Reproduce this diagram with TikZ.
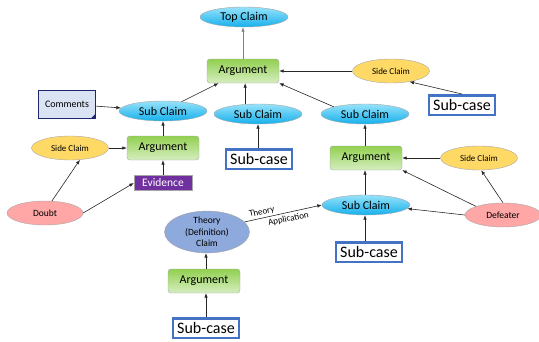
\documentclass[tikz,border=0pt]{standalone}
\usepackage{fontspec}
\setmainfont{Carlito}
\usepackage{tikz}
\usetikzlibrary{arrows.meta,shapes.geometric}

\definecolor{claimtop}{RGB}{150,226,250}
\definecolor{claimbot}{RGB}{22,176,236}
\definecolor{argtop}{RGB}{146,208,80}
\definecolor{argbot}{RGB}{214,238,192}
\definecolor{sidefill}{RGB}{255,217,102}
\definecolor{doubtfill}{RGB}{255,166,166}
\definecolor{theoryfill}{RGB}{142,169,219}
\definecolor{evfill}{RGB}{112,48,160}
\definecolor{notefill}{RGB}{218,227,243}
\definecolor{notedraw}{RGB}{31,40,110}
\definecolor{casedraw}{RGB}{68,114,196}

\begin{document}
\begin{tikzpicture}[x=1pt,y=-1pt,
  >={Latex[length=4.5pt,width=3.5pt]},
  claim/.style={ellipse, draw=gray!70, top color=claimtop, bottom color=claimbot,
    inner sep=0pt, minimum width=88pt, minimum height=20pt, font=\fontsize{12}{13}\selectfont},
  argbox/.style={rectangle, rounded corners=3pt, draw=gray!70, top color=argtop, bottom color=argbot,
    minimum width=72pt, minimum height=24pt, inner sep=0pt, font=\fontsize{12}{13}\selectfont},
  sideclaim/.style={ellipse, draw=gray!70, fill=sidefill, inner sep=0pt,
    minimum width=77pt, minimum height=24pt, font=\fontsize{9}{11}\selectfont},
  objection/.style={ellipse, draw=gray!70, fill=doubtfill, inner sep=0pt,
    minimum width=76pt, minimum height=24pt, font=\fontsize{9.5}{11}\selectfont},
  subcase/.style={rectangle, draw=casedraw, line width=2.5pt, fill=white, inner sep=0pt,
    minimum width=66pt, minimum height=19.5pt, font=\fontsize{16}{18}\selectfont},
  link/.style={->, draw=black!85, line width=0.6pt}]
\useasboundingbox (0,0) rectangle (539,341);

% top of the case
\node[claim] (top) at (244,17) {Top Claim};
\node[argbox] (arg0) at (243,71) {Argument};
\node[sideclaim] (side0) at (391,71) {Side Claim};
\node[subcase] (sub0) at (462,105) {Sub-case};

% left branch
\node[rectangle, draw=notedraw, line width=0.8pt, fill=notefill, minimum width=57pt,
  minimum height=28pt, inner sep=0pt, font=\fontsize{10}{12}\selectfont] (comm) at (67,104) {Comments};
\fill[notedraw] (comm.south east) -- ++(-5,0) -- ++(5,-5) -- cycle;
\node[claim] (sc1) at (163,111) {Sub Claim};
\node[argbox] (arg1) at (163,148) {Argument};
\node[sideclaim] (side1) at (70,148) {Side Claim};
\node[rectangle, draw=gray!70, fill=evfill, text=white, minimum width=58pt, minimum height=15pt,
  inner sep=0pt, font=\fontsize{11.5}{13}\selectfont] (ev) at (163,183) {Evidence};
\node[objection] (doubt) at (45,213) {Doubt};

% middle branch
\node[claim] (sc2) at (258,114) {Sub Claim};
\node[subcase] (sub1) at (259,159) {Sub-case};

% right branch
\node[claim] (sc3) at (365,114) {Sub Claim};
\node[argbox] (arg2) at (366,158) {Argument};
\node[sideclaim] (side2) at (479,158) {Side Claim};
\node[claim] (sc4) at (366,205) {Sub Claim};
\node[subcase] (sub4) at (369,252) {Sub-case};
\node[objection] (def) at (503,215) {Defeater};

% theory part
\node[ellipse, draw=gray!70, fill=theoryfill, inner sep=0pt, minimum width=85pt, minimum height=38pt,
  align=center, font=\fontsize{9.5}{11.5}\selectfont] (theory) at (207,232) {Theory\\(Definition)\\Claim};
\node[argbox] (arg3) at (204,281) {Argument};
\node[subcase] (sub3) at (206,328) {Sub-case};

% connectors
\draw[link, draw=gray] (arg0) -- (arg0 |- top.south);
\draw[link] (side0) -- (arg0);
\draw[link] (sub0.north) -- (side0.-30);
\draw[link] (sc1) -- (arg0);
\draw[link] (sc2.north -| arg0.-80) -- (arg0.-80);
\draw[link] (sc3.north west) -- (arg0.south east);
\draw[link] (comm) -- (sc1);
\draw[link] (arg1) -- (sc1);
\draw[link] (side1) -- (arg1);
\draw[link] (ev) -- (arg1);
\draw[link] (doubt.60) -- (side1.-50);
\draw[link] (doubt.east) -- (ev.west);
\draw[link] (sub1.north -| sc2.south) -- (sc2.south);
\draw[link] (arg2.north -| sc3.south) -- (sc3.south);
\draw[link] (side2) -- (arg2);
\draw[link] (def.north west) -- (arg2.south east);
\draw[link] (def.north) -- (side2.-80);
\draw[link] (def.west) -- (sc4.-5);
\draw[link] (sc4.north -| sc3.south) -- (arg2.south -| sc3.south);
\draw[link] (sub4.north -| sc3.south) -- (sc4.south -| sc3.south);
\draw[link] (theory.15) -- (sc4.west)
  node[pos=0.24, above, sloped, inner sep=2pt, font=\fontsize{9}{10}\selectfont] {Theory}
  node[pos=0.55, below, sloped, inner sep=2.5pt, font=\fontsize{9}{10}\selectfont] {Application};
\draw[link] (arg3.north -| sub3.north) -- (theory.south -| sub3.north);
\draw[link] (sub3.north) -- (arg3.south -| sub3.north);
\end{tikzpicture}
\end{document}
